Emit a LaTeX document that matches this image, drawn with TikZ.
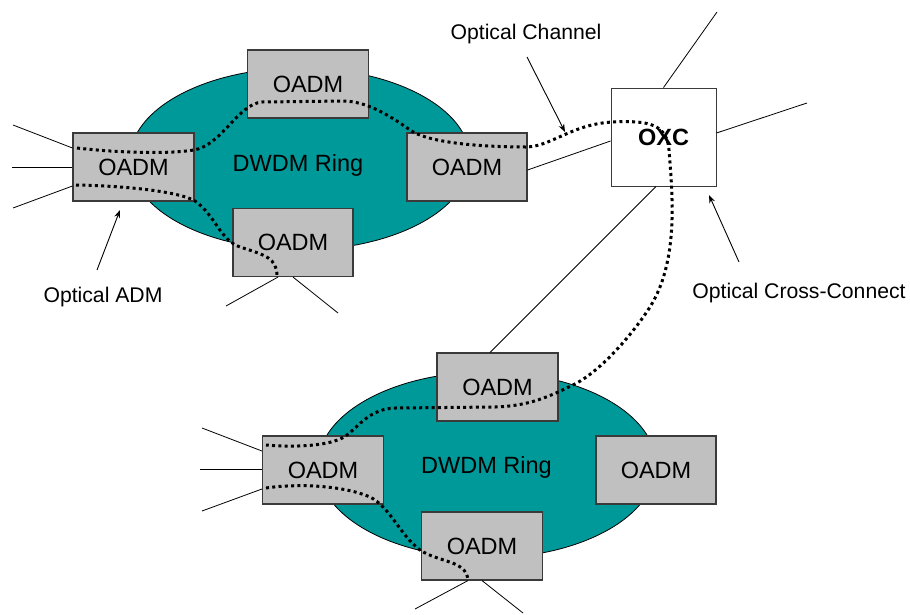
\documentclass[tikz,border=0pt]{standalone}
\usepackage{fontspec}
\setmainfont{Liberation Sans}
\usetikzlibrary{arrows.meta}
\definecolor{ringteal}{HTML}{009999}
\definecolor{boxgray}{HTML}{C0C0C0}
\definecolor{edgegray}{HTML}{3A3A3A}
\tikzset{
  ring/.style={draw=black, line width=0.8pt, fill=ringteal},
  adm/.style={draw=edgegray, line width=1.1pt, fill=boxgray, minimum width=121pt, minimum height=68pt, inner sep=0pt,
              font=\fontsize{23.5}{28}\selectfont},
  xc/.style={draw=edgegray, line width=0.9pt, fill=white, minimum width=105pt, minimum height=98pt, inner sep=0pt,
             font=\fontsize{23.5}{28}\selectfont\bfseries},
  fibre/.style={draw=black, line width=0.8pt},
  channel/.style={draw=black, line width=3pt, dash pattern=on 3pt off 3.3pt},
  caption/.style={font=\fontsize{21.2}{26}\selectfont, inner sep=0pt},
  ringtext/.style={font=\fontsize{23.5}{28}\selectfont, inner sep=0pt},
  pointer/.style={draw=black, line width=0.9pt, -{Stealth[length=8pt,width=6pt]}}
}
\begin{document}
\begin{tikzpicture}[x=1pt,y=-1pt]
\useasboundingbox (0,0) rectangle (910,614);

% the two DWDM rings
\path[ring] (300,159) ellipse [x radius=170pt, y radius=91pt];
\path[ring] (487,465) ellipse [x radius=169pt, y radius=93pt];
\node[ringtext] (ringA) at (298,165) {DWDM Ring};
\node[ringtext] (ringB) at (486.5,467) {DWDM Ring};

% free ends of the fibres
\coordinate (a1) at (13,125);
\coordinate (a2) at (12,167);
\coordinate (a3) at (13,208);
\coordinate (a4) at (226,306);
\coordinate (a5) at (338,313);
\coordinate (x1) at (717,12);
\coordinate (x2) at (807,103);
\coordinate (b1) at (202,428);
\coordinate (b2) at (200,469);
\coordinate (b3) at (202,511);
\coordinate (b4) at (415,609);
\coordinate (b5) at (523,613);

% upper ring add/drop multiplexers
\node[adm] (tl) at (133.5,167) {OADM};
\node[adm] (tt) at (308,84) {OADM};
\node[adm, minimum width=120pt] (tr) at (467,167) {OADM};
\node[adm, minimum width=120pt] (tb) at (293,242.5) {OADM};

% lower ring add/drop multiplexers
\node[adm] (bt) at (497.5,387) {OADM};
\node[adm] (bl) at (323,470) {OADM};
\node[adm, minimum width=120pt] (br) at (656,470) {OADM};
\node[adm] (bb) at (482,546) {OADM};

% cross-connect
\node[xc] (oxc) at (663.5,137) {OXC};

% fibres
\draw[fibre] ([yshift=19pt]tl.west) -- (a1);
\draw[fibre] (tl.west) -- (a2);
\draw[fibre] ([yshift=-19pt]tl.west) -- (a3);
\draw[fibre] ([xshift=-15pt]tb.south) -- (a4);
\draw[fibre] (tb.south) -- (a5);
\draw[fibre] ([yshift=-3pt]tr.east) -- ([yshift=-4pt]oxc.west);
\draw[fibre] (oxc.north) -- (x1);
\draw[fibre] ([yshift=4pt]oxc.east) -- (x2);
\draw[fibre] ([xshift=-7.5pt]oxc.south) -- ([xshift=-7.5pt]bt.north);
\draw[fibre] ([yshift=19pt]bl.west) -- (b1);
\draw[fibre] ([yshift=1pt]bl.west) -- (b2);
\draw[fibre] ([yshift=-19pt]bl.west) -- (b3);
\draw[fibre] ([xshift=-14pt]bb.south) -- (b4);
\draw[fibre] (bb.south) -- (b5);

% optical channel through both rings and the cross-connect
\draw[channel] (77,148) .. controls (120,153) and (170,154) .. (194,150)
  .. controls (222,145) and (238,104) .. (262,102) -- (345,101)
  .. controls (365,102) and (385,112) .. (410,130)
  .. controls (425,141) and (470,147) .. (527,147)
  .. controls (552,146) and (572,124) .. (613,122)
  .. controls (650,120) and (667,125) .. (669,150)
  .. controls (673,200) and (678,262) .. (650,307)
  .. controls (632,335) and (600,372) .. (573,385)
  .. controls (550,396) and (530,406) .. (495,407) -- (395,408)
  .. controls (370,409) and (360,425) .. (347,435)
  .. controls (335,445) and (300,448) .. (266,445);

% dropped channels
\draw[channel] (76,185) .. controls (130,186) and (180,192) .. (195,201)
  .. controls (215,215) and (220,240) .. (240,247)
  .. controls (265,255) and (277,258) .. (277,276);
\draw[channel] (266,488) .. controls (300,483) and (345,486) .. (370,497)
  .. controls (390,507) and (400,535) .. (420,550)
  .. controls (440,563) and (466,560) .. (468,580);

% captions and their pointers
\node[caption] (capCh) at (526,34) {Optical Channel};
\node[caption] (capXc) at (799,293) {Optical Cross-Connect};
\node[caption] (capAdm) at (103,297) {Optical ADM};
\coordinate (tCh) at (527,57);
\coordinate (tXc) at (739,262);
\coordinate (tAdm) at (97,270);
\coordinate (pCh) at (565,132);
\coordinate (pXc) at (709,195);
\coordinate (pAdm) at (120,210);
\draw[pointer] (tCh) -- (pCh);
\draw[pointer] (tXc) -- (pXc);
\draw[pointer] (tAdm) -- (pAdm);
\end{tikzpicture}
\end{document}
